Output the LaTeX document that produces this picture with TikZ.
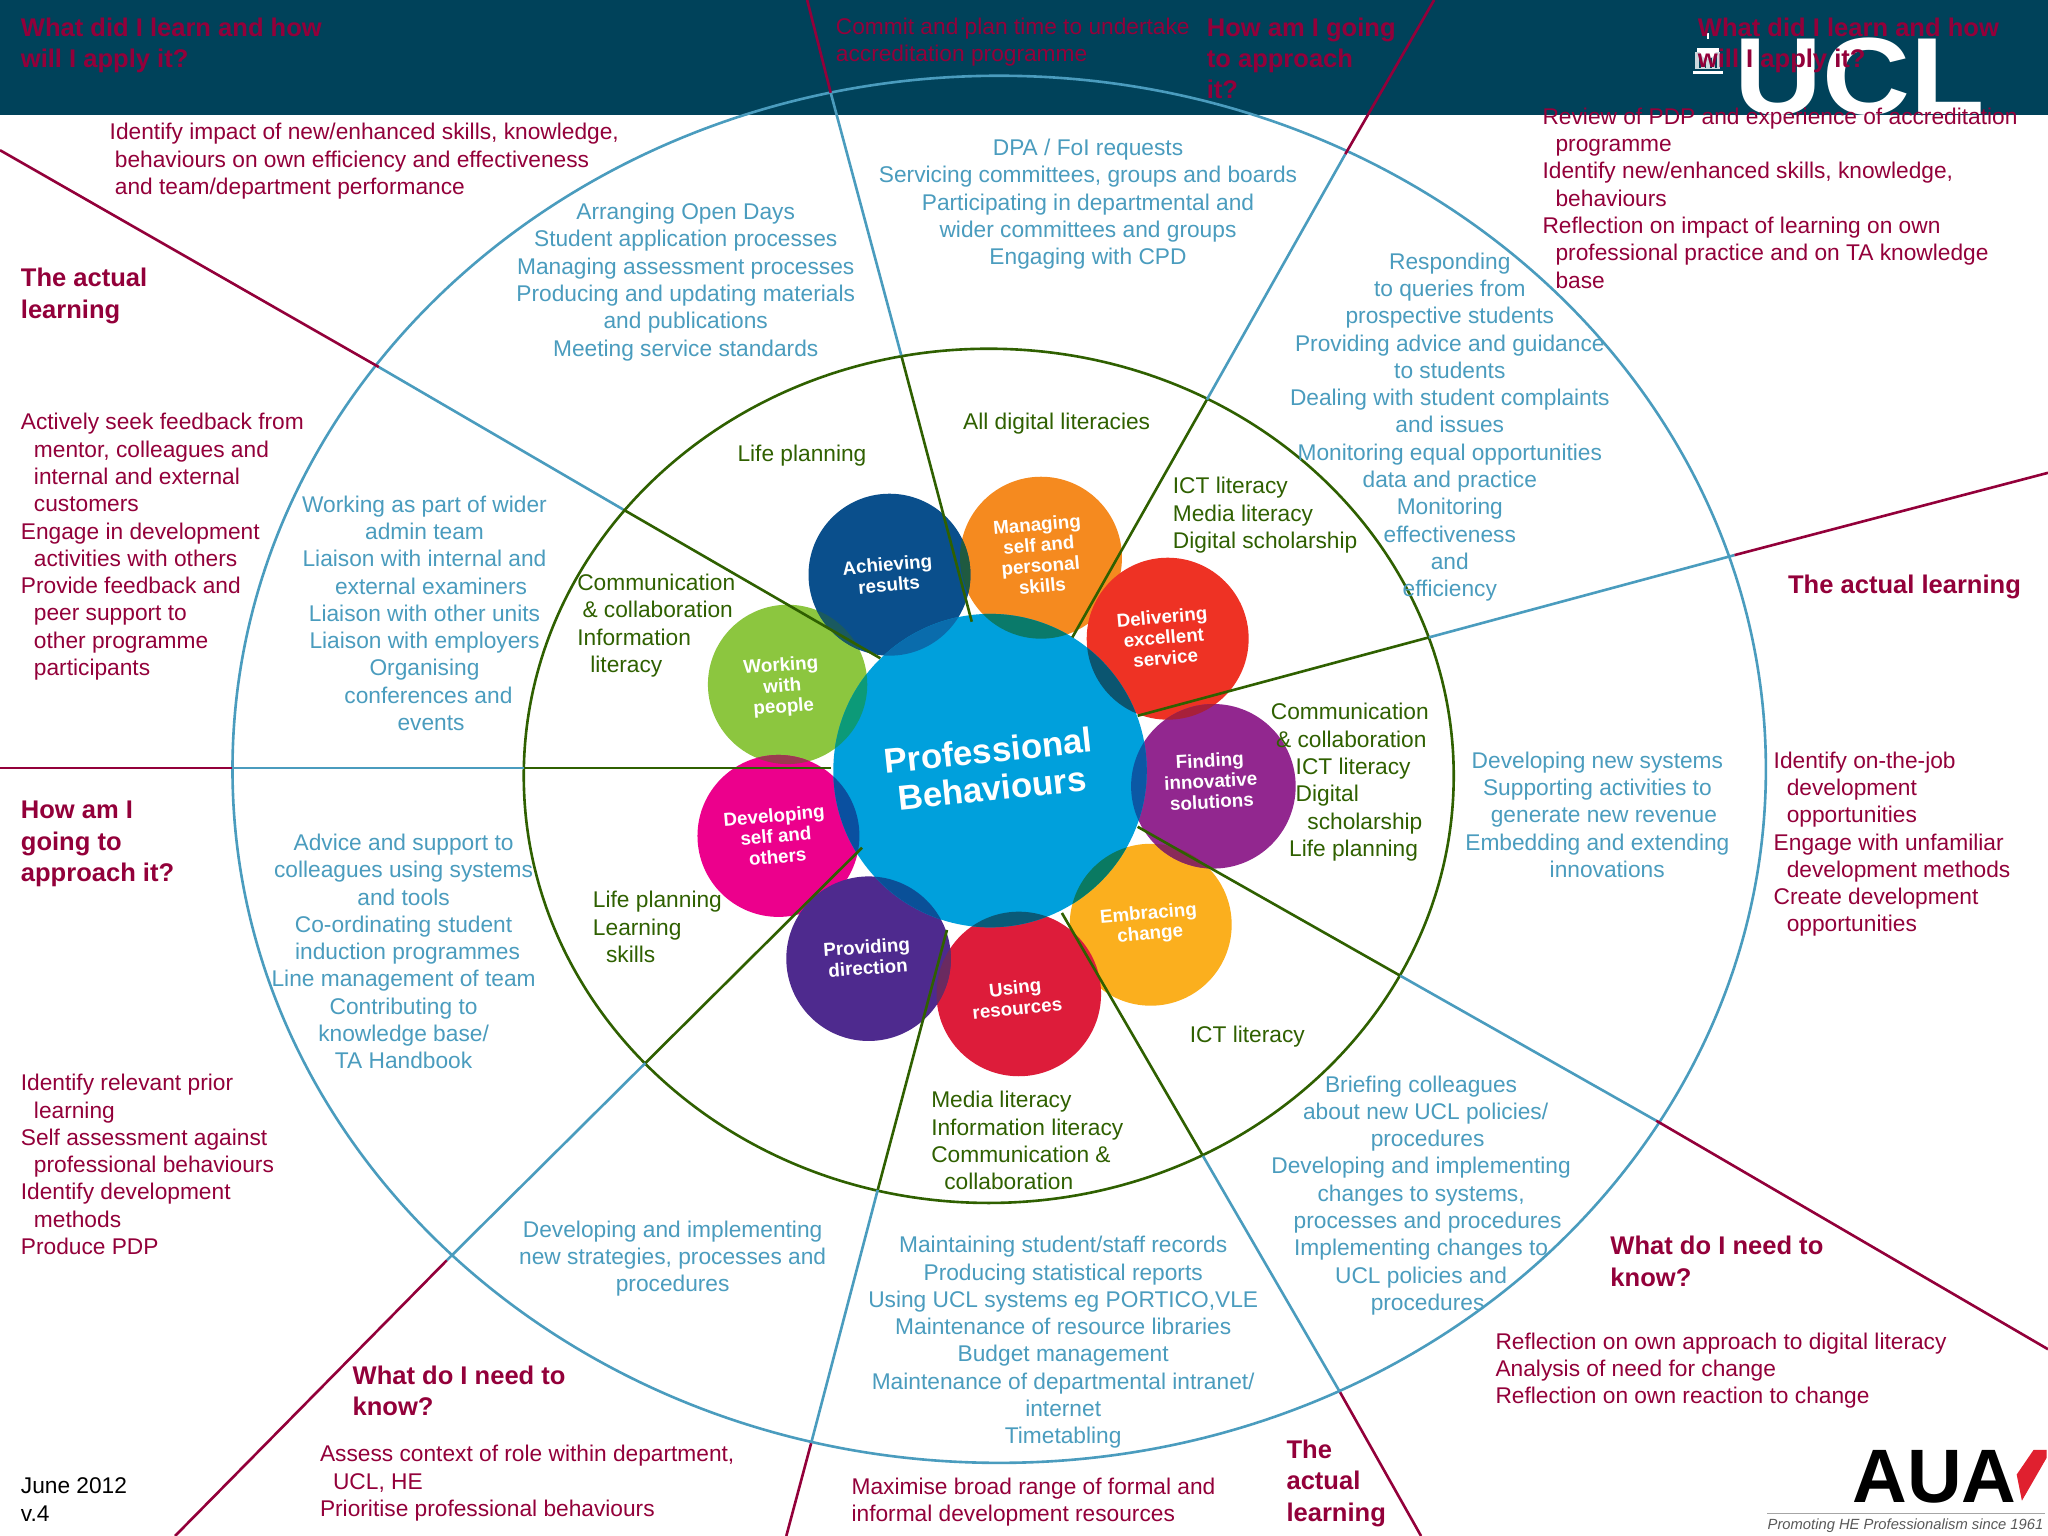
\documentclass[tikz,border=0pt]{standalone}
\usepackage{fontspec}
\setmainfont{Liberation Sans}
\definecolor{hdr}{HTML}{00425A}
\definecolor{crim}{HTML}{93003A}
\definecolor{blu}{HTML}{4A9CBE}
\definecolor{grn}{HTML}{2F6000}
\definecolor{pMc}{HTML}{F58A1F}
\definecolor{pWc}{HTML}{8CC63F}
\definecolor{pAc}{HTML}{0A4F8C}
\definecolor{pDc}{HTML}{EE3224}
\definecolor{pEc}{HTML}{FBAF1E}
\definecolor{pFc}{HTML}{92278F}
\definecolor{pSc}{HTML}{EC008C}
\definecolor{pUc}{HTML}{DD1C3A}
\definecolor{pPc}{HTML}{4E2A8E}
\definecolor{hubc}{HTML}{00A0DC}
\definecolor{oAM}{HTML}{1F5A40}
\definecolor{oAW}{HTML}{1A5A60}
\definecolor{oDF}{HTML}{A8203A}
\definecolor{oFE}{HTML}{8A2A5A}
\definecolor{oSW}{HTML}{9A3A50}
\definecolor{oPU}{HTML}{6A2A60}
\definecolor{hA}{HTML}{0A6CAC}
\definecolor{hM}{HTML}{0A7A6A}
\definecolor{hD}{HTML}{0B5570}
\definecolor{hF}{HTML}{0B58A5}
\definecolor{hE}{HTML}{0A7A62}
\definecolor{hU}{HTML}{0A5A78}
\definecolor{hP}{HTML}{0A5098}
\definecolor{hS}{HTML}{0A50A0}
\definecolor{hW}{HTML}{0C9A78}
\definecolor{auar}{HTML}{E0202F}
\newcommand{\ind}[1]{\hspace*{#1pt}}
\newcommand{\ovl}[5]{\begin{scope}\clip (#1) circle [radius=#2];\fill[#5] (#3) circle [radius=#4];\end{scope}}
\tikzset{
 tb/.style={inner sep=0pt,outer sep=0pt,yshift=-0.25pt,font=\fontsize{8.7}{10.45}\selectfont},
 crimtxt/.style={tb,text=crim,anchor=north west,align=left},
 bluetxt/.style={tb,text=blu,anchor=north,align=center},
 grntxt/.style={tb,text=grn,anchor=north west,align=left},
 head/.style={inner sep=0pt,outer sep=0pt,yshift=-0.25pt,text=crim,anchor=north west,align=left,font=\fontsize{9.78}{12}\selectfont\bfseries},
 ringo/.style={draw=blu,line width=1pt},
 ringi/.style={draw=grn,line width=1pt},
 sg/.style={draw=grn,line width=1pt},
 sb/.style={draw=blu,line width=1pt},
 sc/.style={draw=crim,line width=1pt},
 ptxt/.style={inner sep=0pt,text=white,align=center,font=\fontsize{7.2}{7.9}\selectfont\bfseries},
}
\begin{document}
\begin{tikzpicture}[x=0.5pt,y=-0.5pt]
\useasboundingbox (0,0) rectangle (1568,1176);
\fill[white] (0,0) rectangle (1568,1176);
\fill[hdr] (0,0) rectangle (1568,88);
% UCL logo
\node[inner sep=0pt,text=white,font=\fontsize{42}{42}\selectfont\bfseries,xscale=1.11,anchor=base] (ucl) at (1424,88) {UCL};
\fill[white] (1296,54) rectangle (1319,56.5);
\fill[white!80!hdr] (1298,40) rectangle (1317,53);
\foreach \cx in {1301,1305,1309,1313}{\fill[hdr] (\cx,42) rectangle (\cx+1.5,52);}
\fill[white] (1299,37) rectangle (1316,40);
\fill[white] (1301,37) arc[start angle=180,end angle=0,x radius=6.5,y radius=8] -- cycle;
\fill[white] (1307,25) rectangle (1308.2,30);
% Petals
\coordinate (cC) at (758,590);
\coordinate (pA) at (681,440);
\coordinate (pM) at (797,427);
\coordinate (pD) at (894,489);
\coordinate (pF) at (929,602);
\coordinate (pE) at (881,708);
\coordinate (pU) at (780,761);
\coordinate (pP) at (665,734);
\coordinate (pS) at (596,640);
\coordinate (pW) at (603,524);
\fill[pMc] (pM) circle [radius=62];
\fill[pWc] (pW) circle [radius=61];
\fill[pAc] (pA) circle [radius=62];
\fill[pDc] (pD) circle [radius=62];
\fill[pEc] (pE) circle [radius=62];
\fill[pFc] (pF) circle [radius=63];
\fill[pSc] (pS) circle [radius=62];
\fill[pUc] (pU) circle [radius=63];
\fill[pPc] (pP) circle [radius=63];
\ovl{pA}{62}{pM}{62}{oAM}
\ovl{pA}{62}{pW}{61}{oAW}
\ovl{pD}{62}{pF}{63}{oDF}
\ovl{pF}{63}{pE}{62}{oFE}
\ovl{pS}{62}{pW}{61}{oSW}
\ovl{pP}{63}{pU}{63}{oPU}
\fill[hubc] (cC) circle [radius=120];
\ovl{cC}{120}{pA}{62}{hA}
\ovl{cC}{120}{pM}{62}{hM}
\ovl{cC}{120}{pD}{62}{hD}
\ovl{cC}{120}{pF}{63}{hF}
\ovl{cC}{120}{pE}{62}{hE}
\ovl{cC}{120}{pU}{63}{hU}
\ovl{cC}{120}{pP}{63}{hP}
\ovl{cC}{120}{pS}{62}{hS}
\ovl{cC}{120}{pW}{61}{hW}
\node[inner sep=0pt,text=white,align=center,rotate=6,font=\fontsize{13.3}{14.5}\selectfont\bfseries] (hub) at (758,589) {Professional\\Behaviours};
\node[ptxt,rotate=5] (lA) at (680,440) {Achieving\\results};
\node[ptxt,rotate=5] (lM) at (796,425) {Managing\\self and\\personal\\skills};
\node[ptxt,rotate=5] (lD) at (891,488) {Delivering\\excellent\\service};
\node[ptxt,rotate=3] (lF) at (927,598) {Finding\\innovative\\solutions};
\node[ptxt,rotate=5] (lE) at (880,708) {Embracing\\change};
\node[ptxt,rotate=6] (lU) at (778,764) {Using\\resources};
\node[ptxt,rotate=4] (lP) at (664,733) {Providing\\direction};
\node[ptxt,rotate=5] (lS) at (594,640) {Developing\\self and\\others};
\node[ptxt,rotate=4] (lW) at (599,526) {Working\\with\\people};
% rings
\coordinate (ringc) at (765,589);
\draw[ringo] (ringc) ellipse [x radius=587,y radius=531];
\coordinate (ringn) at (757,594);
\draw[ringi] (ringn) ellipse [x radius=356,y radius=327];
% spokes
\foreach \n/\a/\b/\c/\d in {
 A/{744,476}/{690,272}/{636,71}/{618,0},
 B/{821,488}/{924,306}/{1030,118}/{1098,0},
 C/{871,548}/{1094,488}/{1328,425}/{1568,362},
 D/{871,633}/{1072,747}/{1268,858}/{1568,1033},
 E/{813,699}/{921,885}/{1026,1066}/{1088,1176},
 F/{725,712}/{672,911}/{621,1105}/{602,1176},
 G/{660,649}/{494,814}/{342,965}/{134,1176},
 H/{636,588}/{401,588}/{178,588}/{0,588},
 I/{674,504}/{477,390}/{290,281}/{0,115}}{
 \coordinate (s\n1) at (\a); \coordinate (s\n2) at (\b); \coordinate (s\n3) at (\c); \coordinate (s\n4) at (\d);
 \draw[sg] (s\n1) -- (s\n2);
 \draw[sb] (s\n2) -- (s\n3);
 \draw[sc] (s\n3) -- (s\n4);
}
% header text
\node[head] (h1) at (16,13) {What did I learn and how\\will I apply it?};
\node[crimtxt] (h2) at (640,13) {Commit and plan time to undertake\\accreditation programme};
\node[head] (h3) at (924,13) {How am I going\\to approach\\it?};
\node[head] (h4) at (1300,13) {What did I learn and how\\will I apply it?};
% crimson text
\node[crimtxt] (c1) at (84,94) {Identify impact of new/enhanced skills, knowledge,\\\ind{2}behaviours on own efficiency and effectiveness\\\ind{2}and team/department performance};
\node[crimtxt] (c2) at (16,316) {Actively seek feedback from\\\ind{5}mentor, colleagues and\\\ind{5}internal and external\\\ind{5}customers\\Engage in development\\\ind{5}activities with others\\Provide feedback and\\\ind{5}peer support to\\\ind{5}other programme\\\ind{5}participants};
\node[crimtxt] (c3) at (16,822) {Identify relevant prior\\\ind{5}learning\\Self assessment against\\\ind{5}professional behaviours\\Identify development\\\ind{5}methods\\Produce PDP};
\node[crimtxt] (c4) at (245,1106) {Assess context of role within department,\\\ind{5}UCL, HE\\Prioritise professional behaviours};
\node[crimtxt] (c5) at (652,1131) {Maximise broad range of formal and\\informal development resources};
\node[crimtxt] (c6) at (1145,1020) {Reflection on own approach to digital literacy\\Analysis of need for change\\Reflection on own reaction to change};
\node[crimtxt] (c7) at (1358,575) {Identify on-the-job\\\ind{5}development\\\ind{5}opportunities\\Engage with unfamiliar\\\ind{5}development methods\\Create development\\\ind{5}opportunities};
\node[crimtxt] (c8) at (1181,82) {Review of PDP and experience of accreditation\\\ind{5}programme\\Identify new/enhanced skills, knowledge,\\\ind{5}behaviours\\Reflection on impact of learning on own\\\ind{5}professional practice and on TA knowledge\\\ind{5}base};
% bold headings
\node[head] (b1) at (16,205) {The actual\\learning};
\node[head] (b2) at (16,613) {How am I\\going to\\approach it?};
\node[head] (b3) at (270,1045) {What do I need to\\know?};
\node[head] (b4) at (985,1102) {The\\actual\\learning};
\node[head] (b5) at (1233,946) {What do I need to\\know?};
\node[head] (b6) at (1369,440) {The actual learning};
% blue text
\node[bluetxt] (t1) at (833,106) {DPA / FoI requests\\Servicing committees, groups and boards\\Participating in departmental and\\wider committees and groups\\Engaging with CPD};
\node[bluetxt] (t2) at (525,155) {Arranging Open Days\\Student application processes\\Managing assessment processes\\Producing and updating materials\\and publications\\Meeting service standards};
\node[bluetxt] (t3) at (1110,193) {Responding\\to queries from\\prospective students\\Providing advice and guidance\\to students\\Dealing with student complaints\\and issues\\Monitoring equal opportunities\\data and practice\\Monitoring\\effectiveness\\and\\efficiency};
\node[bluetxt] (t4) at (1223,575) {Developing new systems\\Supporting activities to\\\ind{5}generate new revenue\\Embedding and extending\\\ind{7.5}innovations};
\node[bluetxt] (t5) at (1088,823) {Briefing colleagues\\\ind{3.5}about new UCL policies/\\\ind{5}procedures\\Developing and implementing\\changes to systems,\\\ind{5}processes and procedures\\Implementing changes to\\UCL policies and\\\ind{5}procedures};
\node[bluetxt] (t6) at (814,946) {Maintaining student/staff records\\Producing statistical reports\\Using UCL systems eg PORTICO,VLE\\Maintenance of resource libraries\\Budget management\\Maintenance of departmental intranet/\\internet\\Timetabling};
\node[bluetxt] (t7) at (515,934) {Developing and implementing\\new strategies, processes and\\procedures};
\node[bluetxt] (t8) at (309,638) {Advice and support to\\colleagues using systems\\and tools\\Co-ordinating student\\\ind{3}induction programmes\\Line management of team\\Contributing to\\knowledge base/\\TA Handbook};
\node[bluetxt] (t9) at (325,379) {Working as part of wider\\admin team\\Liaison with internal and\\\ind{5}external examiners\\Liaison with other units\\Liaison with employers\\Organising\\\ind{3}conferences and\\\ind{5}events};
% green text
\node[grntxt,anchor=north] (g1) at (809,316) {All digital literacies};
\node[grntxt,anchor=north] (g2) at (614,340) {Life planning};
\node[grntxt] (g3) at (898,365) {ICT literacy\\Media literacy\\Digital scholarship};
\node[grntxt] (g4) at (442,439) {Communication\\\ind{2}\& collaboration\\Information\\\ind{5}literacy};
\node[grntxt] (g5) at (973,538) {Communication\\\ind{2}\& collaboration\\\ind{9.5}ICT literacy\\\ind{9.5}Digital\\\ind{14}scholarship\\\ind{7}Life planning};
\node[grntxt] (g6) at (454,682) {Life planning\\Learning\\\ind{5}skills};
\node[grntxt] (g7) at (911,785) {ICT literacy};
\node[grntxt] (g8) at (713,835) {Media literacy\\Information literacy\\Communication \&\\\ind{5}collaboration};
% footer
\node[crimtxt,text=black] (f1) at (16,1131) {June 2012\\v.4};
% AUA logo
\node[inner sep=0pt,text=black,font=\fontsize{29}{29}\selectfont\bfseries,anchor=base] (aua) at (1481,1150) {AUA};
\fill[auar] (1557,1110) -- (1567,1110) -- (1567,1116) -- (1548,1149) -- (1544,1129) -- cycle;
\coordinate (auaL) at (1353,1159); \coordinate (auaR) at (1566,1159);
\draw[gray!70,line width=0.4pt] (auaL) -- (auaR);
\node[inner sep=0pt,text=black!65,anchor=west,font=\fontsize{5.65}{7}\selectfont\itshape] (aua2) at (1353,1168) {Promoting HE Professionalism since 1961};
\end{tikzpicture}
\end{document}
